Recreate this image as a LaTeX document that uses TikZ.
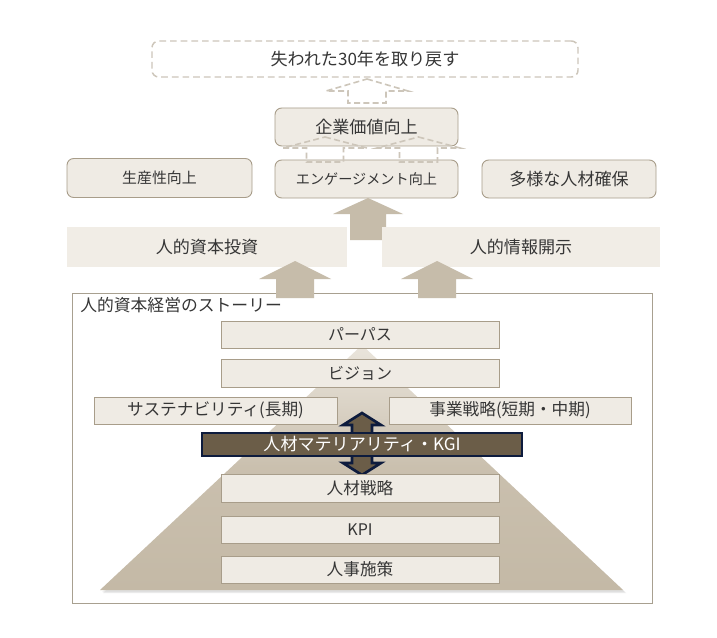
\documentclass[tikz,border=0pt]{standalone}
\usepackage{fontspec}
\setmainfont{Noto Sans CJK JP}
\usetikzlibrary{calc}
\definecolor{boxfill}{HTML}{EFEBE4}
\definecolor{boxline}{HTML}{A89D8A}
\definecolor{barfill}{HTML}{F1EDE6}
\definecolor{arrowfill}{HTML}{C6BCAA}
\definecolor{dashcol}{HTML}{CDC6BA}
\definecolor{txt}{HTML}{363636}
\definecolor{kgifill}{HTML}{6B5D48}
\definecolor{kgiline}{HTML}{0D1B3D}
\definecolor{frameline}{HTML}{A8A090}
\definecolor{pyrtop}{HTML}{EAE5DC}
\definecolor{pyrbot}{HTML}{C4B9A6}
\tikzset{
  every node/.style={text=txt, inner sep=0pt, font=\fontsize{12}{14}\selectfont},
  roundbox/.style={draw=boxline, fill=boxfill, rounded corners=5pt, line width=0.7pt},
  barbox/.style={fill=barfill},
  pyrbox/.style={draw=boxline, fill=boxfill, line width=0.7pt},
  dasharrow/.style={draw=dashcol, dashed, dash pattern=on 4.5pt off 2.5pt, line width=1.2pt},
  solidarrow/.style={fill=arrowfill},
}
\newcommand{\blockarrow}[7]{% style, cx, tipy, heady, bottomy, headhalf, shafthalf
  \path[#1] (#2,#3) -- ({#2+#6},#4) -- ({#2+#7},#4) -- ({#2+#7},#5) -- ({#2-#7},#5) -- ({#2-#7},#4) -- ({#2-#6},#4) -- cycle;}
\begin{document}
\begin{tikzpicture}[x=0.75pt,y=-0.75pt]
\useasboundingbox[fill=white] (0,0) rectangle (717,638);

% top
\node[roundbox, draw=dashcol, fill=white, dashed, dash pattern=on 5pt off 3pt, line width=1.1pt, minimum width=426*0.75pt, minimum height=36*0.75pt, font=\fontsize{12.8}{14}\selectfont] (goal) at (365,59) {失われた30年を取り戻す};
\node[roundbox, minimum width=183*0.75pt, minimum height=38*0.75pt, font=\fontsize{12.8}{14}\selectfont] (kigyo) at (366.5,127) {企業価値向上};

% row 2
\node[roundbox, minimum width=185*0.75pt, minimum height=39*0.75pt, font=\fontsize{11.2}{13}\selectfont] (seisan) at (159.5,178) {生産性向上};
\node[roundbox, minimum width=183*0.75pt, minimum height=38*0.75pt, font=\fontsize{10.6}{12}\selectfont] (eng) at (366.5,179) {エンゲージメント向上};
\node[roundbox, minimum width=174*0.75pt, minimum height=38*0.75pt, font=\fontsize{12.8}{14}\selectfont] (tayo) at (569,179) {多様な人材確保};

% dashed arrows
\blockarrow{dasharrow}{367}{79}{91}{103}{41}{19}
\blockarrow{dasharrow}{325}{137}{148}{162}{42}{18.5}
\blockarrow{dasharrow}{418.5}{137}{148}{162}{41.5}{19}

% main arrow to engagement
\blockarrow{solidarrow}{368}{198}{214}{240}{35}{18}

% bars
\node[barbox, minimum width=280*0.75pt, minimum height=40*0.75pt, font=\fontsize{12.8}{14}\selectfont] (toshi) at (207,247) {人的資本投資};
\node[barbox, minimum width=278*0.75pt, minimum height=40*0.75pt, font=\fontsize{12.8}{14}\selectfont] (kaiji) at (521,247) {人的情報開示};

% story frame
\draw[frameline, line width=0.7pt] (72,293) rectangle (652,603);
\node[anchor=west, font=\fontsize{12.6}{14}\selectfont] (story) at (80,305) {人的資本経営のストーリー};

\blockarrow{solidarrow}{295}{261}{279}{298}{36}{19}
\blockarrow{solidarrow}{437}{261}{279}{298}{36}{19}

% pyramid
\fill[black!40, opacity=0.18] (364,349) -- (626,593) -- (103,593) -- cycle;
\fill[black!40, opacity=0.15] (363,347) -- (625,592) -- (102,592) -- cycle;
\shade[top color=pyrtop, bottom color=pyrbot, middle color=pyrbot!85!pyrtop] (362,345) -- (623,590) -- (100,590) -- cycle;

% pyramid boxes
\node[pyrbox, minimum width=278*0.75pt, minimum height=27*0.75pt] (purpose) at (360,334.5) {パーパス};
\node[pyrbox, minimum width=278*0.75pt, minimum height=28*0.75pt] (vision) at (360,373) {ビジョン};
\node[pyrbox, minimum width=243*0.75pt, minimum height=27*0.75pt, font=\fontsize{12.5}{14}\selectfont] (sus) at (215.5,410.5) {サステナビリティ(長期)};
\node[pyrbox, minimum width=242*0.75pt, minimum height=27*0.75pt, font=\fontsize{12.5}{14}\selectfont] (jigyo) at (510,410.5) {事業戦略(短期・中期)};

% double arrow
\path[fill=kgifill, draw=kgiline, line width=2pt, line join=miter]
  (362,413) -- (381,425) -- (372,425) -- (372,463) -- (381,463) -- (362,475) -- (343,463) -- (352,463) -- (352,425) -- (343,425) -- cycle;
\node[fill=kgifill, draw=kgiline, line width=2.2pt, minimum width=320*0.75pt, minimum height=23*0.75pt, text=white, font=\fontsize{12.8}{14}\selectfont] (kgi) at (362,444.5) {人材マテリアリティ・KGI};

\node[pyrbox, minimum width=278*0.75pt, minimum height=28*0.75pt, font=\fontsize{12.5}{14}\selectfont] (jinzai) at (360,488) {人材戦略};
\node[pyrbox, minimum width=278*0.75pt, minimum height=27*0.75pt] (kpi) at (360,529.5) {KPI};
\node[pyrbox, minimum width=278*0.75pt, minimum height=27*0.75pt, font=\fontsize{12.5}{14}\selectfont] (jinji) at (360,569.5) {人事施策};
\end{tikzpicture}
\end{document}
